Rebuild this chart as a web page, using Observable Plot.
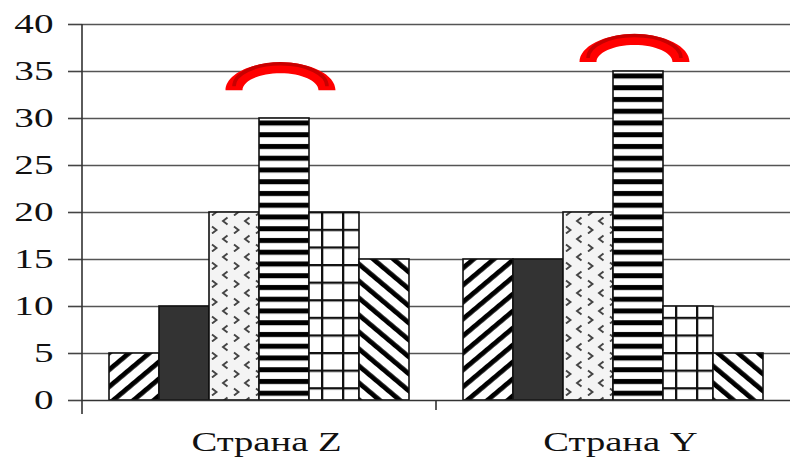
<!DOCTYPE html>
<html>
<head>
<meta charset="utf-8">
<script src="https://cdn.jsdelivr.net/npm/d3@7"></script>
<script src="https://cdn.jsdelivr.net/npm/@observablehq/plot@0.6"></script>
<style>
  html, body { margin: 0; padding: 0; background: #fff; }
</style>
</head>
<body>
<div id="chart"></div>
<script>
// ---- data ----
const groups = ["Страна Z", "Страна Y"];
const series = ["diagUp", "solid", "chevron", "hstripe", "grid", "diagDown"];
const valuesZ = [5, 10, 20, 30, 20, 15];
const valuesY = [15, 15, 20, 35, 10, 5];
const yTicks = [0, 5, 10, 15, 20, 25, 30, 35, 40];
// annotation arcs (hand-drawn marks above the tallest bar)
const arcGroups = ["Страна Z", "Страна Y"];
const arcSeries = ["hstripe", "hstripe"];
const arcLevels = [33, 36];

const table = [];
groups.forEach((g, gi) => {
  const vals = gi === 0 ? valuesZ : valuesY;
  series.forEach((s, si) => table.push({group: g, series: s, value: vals[si]}));
});
const arcs = arcGroups.map((g, i) => ({group: g, series: arcSeries[i], level: arcLevels[i]}));

const patternUrls = series.map(s => s === "solid" ? "#333333" : `url(#pat-${s})`);

// crescent symbol (origin at base centre)
function halfEllipse(ctx, a, b, start) {
  const k = 0.5523;
  if (start) ctx.moveTo(-a, 0);
  ctx.bezierCurveTo(-a, -k * b, -k * a, -b, 0, -b);
  ctx.bezierCurveTo(k * a, -b, a, -k * b, a, 0);
}
const crescent = {
  draw(ctx) {
    const a = 55, b = 28, ai = 38, bi = 17, k = 0.5523;
    halfEllipse(ctx, a, b, true);
    ctx.lineTo(ai, 0);
    ctx.bezierCurveTo(ai, -k * bi, k * ai, -bi, 0, -bi);
    ctx.bezierCurveTo(-k * ai, -bi, -ai, -k * bi, -ai, 0);
    ctx.closePath();
  }
};
const crescentCore = {
  draw(ctx) { halfEllipse(ctx, 46.5, 22.5, true); }
};

const plot = Plot.plot({
  width: 790,
  height: 459,
  marginLeft: 82,
  marginRight: 0,
  marginTop: 24,
  marginBottom: 59,
  style: {fontFamily: "Liberation Serif", fontSize: "27px", color: "#111", background: "#fff"},
  fx: {domain: groups, padding: 0, label: null},
  x: {domain: series, paddingInner: 0, paddingOuter: 0.48, axis: null},
  y: {domain: [0, 40], axis: null},
  color: {domain: series, range: patternUrls},
  marks: [
    Plot.ruleY(yTicks.filter(t => t > 0), {stroke: "#555", strokeWidth: 1.6}),
    Plot.barY(table, {fx: "group", x: "series", y: "value", fill: "series", stroke: "#111", strokeWidth: 1.6}),
    Plot.ruleY([0], {stroke: "#333", strokeWidth: 1.6}),
    Plot.axisY({ticks: yTicks, tickSize: 14, tickPadding: 15, fontSize: 27, stroke: "#444", strokeWidth: 1.6, label: null}),
    Plot.axisFx({anchor: "bottom", tickSize: 0, tickPadding: 31, fontSize: 28, label: null, dx: 7}),
    Plot.dot(arcs, {fx: "group", x: "series", y: "level", symbol: crescent, fill: "#ff0000", stroke: "none", dx: -4}),
    Plot.dot(arcs, {fx: "group", x: "series", y: "level", symbol: crescentCore, fill: "none", stroke: "#c80000", strokeWidth: 3.5, dx: -4, dy: -4})
  ]
});

// pattern definitions
const defs = d3.create("svg:defs");
function stripes(id, angle) {
  const p = defs.append("pattern").attr("id", id).attr("patternUnits", "userSpaceOnUse")
    .attr("width", 13).attr("height", 13).attr("patternTransform", `rotate(${angle})`);
  p.append("rect").attr("width", 13).attr("height", 13).attr("fill", "#fff");
  p.append("rect").attr("x", 0).attr("y", 0).attr("width", 4.8).attr("height", 13).attr("fill", "#000");
}
stripes("pat-diagUp", 50);
stripes("pat-diagDown", -50);
{
  const p = defs.append("pattern").attr("id", "pat-hstripe").attr("patternUnits", "userSpaceOnUse")
    .attr("width", 20).attr("height", 11.75);
  p.append("rect").attr("width", 20).attr("height", 11.75).attr("fill", "#fff");
  p.append("rect").attr("y", 3).attr("width", 20).attr("height", 5).attr("fill", "#000");
}
{
  const p = defs.append("pattern").attr("id", "pat-grid").attr("patternUnits", "userSpaceOnUse")
    .attr("width", 21).attr("height", 17.6).attr("x", 6);
  p.append("rect").attr("width", 21).attr("height", 17.6).attr("fill", "#fff");
  p.append("rect").attr("x", 0).attr("width", 2.3).attr("height", 17.6).attr("fill", "#111");
  p.append("rect").attr("y", 0).attr("width", 21).attr("height", 2.3).attr("fill", "#111");
}
{
  const p = defs.append("pattern").attr("id", "pat-chevron").attr("patternUnits", "userSpaceOnUse")
    .attr("width", 22).attr("height", 18);
  p.append("rect").attr("width", 22).attr("height", 18).attr("fill", "#f4f4f4");
  p.append("path").attr("d", "M7.5,1.5 L3,5 L7.5,8.5").attr("fill", "none").attr("stroke", "#444").attr("stroke-width", 1.9);
  p.append("path").attr("d", "M14,10.5 L18.5,14 L14,17.5").attr("fill", "none").attr("stroke", "#444").attr("stroke-width", 1.9);
}
plot.insertBefore(defs.node(), plot.firstChild);

// axis line and category boundary ticks, via the plot's scales
const fx = plot.scale("fx"), y = plot.scale("y");
const y0 = y.apply(0), yTop = y.apply(40);
const xLeft = fx.apply(groups[0]);
const g = d3.select(plot).append("g").attr("stroke", "#333").attr("stroke-width", 1.6);
g.append("line").attr("x1", xLeft).attr("x2", xLeft).attr("y1", yTop).attr("y2", y0 + 14);
groups.slice(1).forEach(gr => {
  const xb = fx.apply(gr);
  g.append("line").attr("x1", xb).attr("x2", xb).attr("y1", y0).attr("y2", y0 + 10);
});

document.getElementById("chart").appendChild(plot);

// the source image is stretched horizontally: widen the glyphs to match
function stretch(selector, factor) {
  d3.select(plot).selectAll(selector).each(function () {
    const len = this.getComputedTextLength();
    if (len > 0) {
      this.setAttribute("textLength", len * factor);
      this.setAttribute("lengthAdjust", "spacingAndGlyphs");
    }
  });
}
stretch('g[aria-label="y-axis tick label"] text', 1.45);
stretch('g[aria-label="fx-axis tick label"] text', 1.38);
</script>
</body>
</html>
